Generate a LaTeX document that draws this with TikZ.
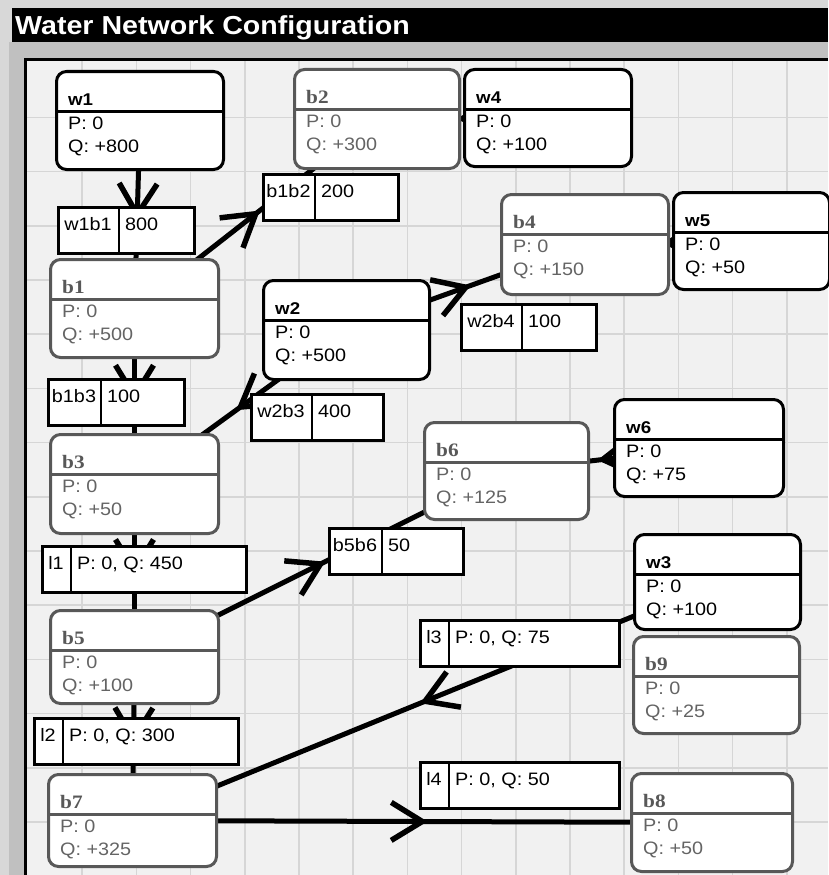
\documentclass[tikz,border=0pt]{standalone}
\usepackage{fontspec}
\setmainfont{Liberation Sans}[FakeStretch=1.1]
\newfontfamily\titleserif{Liberation Serif}[FakeStretch=1.12]
\usepackage{tikz}
\usetikzlibrary{decorations.markings, backgrounds}
\definecolor{canvasgray}{RGB}{241,241,241}
\definecolor{gridgray}{RGB}{214,214,214}
\definecolor{panelgray}{RGB}{192,192,192}
\definecolor{framegray}{RGB}{216,216,216}
\definecolor{bnodegray}{RGB}{88,88,88}
\definecolor{btextgray}{RGB}{100,100,100}

% junction / well box: name, kind (w or b), left, top, width, height, Q
\newcommand{\station}[7]{%
  \node[#2node, minimum width=#5, minimum height=#6, anchor=north west] (#1) at (#3,#4) {};
  \draw[#2node line] ([yshift=-41pt]#1.north west) -- ([yshift=-41pt]#1.north east);
  \node[#2title] at ([xshift=13pt,yshift=-35pt]#1.north west) {#1};
  \node[#2text] at ([xshift=13pt,yshift=-59pt]#1.north west) {P: 0};
  \node[#2text] at ([xshift=13pt,yshift=-82pt]#1.north west) {Q: #7};
}
% pipe label: name, left, top, width, divider, value
\newcommand{\pipe}[6]{%
  \node[pipebox, minimum width=#4, anchor=north west] (#1) at (#2,#3) {};
  \draw[pipediv] ([xshift=#5]#1.north west) -- ([xshift=#5]#1.south west);
  \node[pipetext, anchor=base] at ([xshift=#5/2,yshift=-24pt]#1.north west) {#1};
  \node[pipetext, anchor=base west] at ([xshift=#5+6,yshift=-24pt]#1.north west) {#6};
}

\begin{document}
\begin{tikzpicture}[x=1pt, y=-1pt,
    wnode/.style={draw=black, line width=3, fill=white, rounded corners=10, inner sep=0},
    bnode/.style={draw=bnodegray, line width=3, fill=white, rounded corners=10, inner sep=0},
    wnode line/.style={black, line width=3},
    bnode line/.style={bnodegray, line width=3},
    wtitle/.style={anchor=base west, inner sep=0, font=\bfseries\fontsize{17}{20}\selectfont},
    btitle/.style={anchor=base west, inner sep=0, text=bnodegray, font=\titleserif\bfseries\fontsize{19}{22}\selectfont},
    wtext/.style={anchor=base west, inner sep=0, font=\fontsize{18}{20}\selectfont},
    btext/.style={anchor=base west, inner sep=0, text=btextgray, font=\fontsize{18}{20}\selectfont},
    pipebox/.style={draw, line width=3, fill=white, minimum height=46, inner sep=0},
    pipediv/.style={line width=2},
    pipetext/.style={inner sep=0, font=\fontsize{18}{20}\selectfont},
    flow/.style={line width=5, postaction={decorate},
      decoration={markings, mark=at position 0.5 with
        {\draw[line width=5.5pt, line join=miter] (-31pt,19pt) -- (0pt,0pt) -- (-31pt,-19pt);}}}
  ]
  \useasboundingbox (0,0) rectangle (828,875);

  % window frame and grid
  \begin{scope}[on background layer]
    \fill[framegray] (0,0) rectangle (828,875);
    \fill[panelgray] (9,42) rectangle (828,875);
    \fill[black] (12,8) rectangle (828,42);
    \fill[canvasgray] (27,61) rectangle (828,875);
    \foreach \k in {1,...,14}
      \draw[gridgray, line width=1.5] (28+54.2*\k,61) -- (28+54.2*\k,875);
    \foreach \k in {1,...,15}
      \draw[gridgray, line width=1.5] (27,63.2+54.2*\k) -- (828,63.2+54.2*\k);
    \draw[line width=3] (25.5,875) -- (25.5,60) -- (828,60);
  \end{scope}

  \node[anchor=base west, inner sep=0, text=white, font=\bfseries\fontsize{26}{30}\selectfont] (title) at (15,35) {Water Network Configuration};

  % wells and junctions
  \station{w1}{w}{55}{70}{167}{98}{+800}
  \station{b2}{b}{293}{68}{165}{99}{+300}
  \station{w4}{w}{463}{68}{167}{97}{+100}
  \station{b4}{b}{500}{193}{167}{100}{+150}
  \station{w5}{w}{672}{191}{156}{97}{+50}
  \station{b1}{b}{49}{258}{168}{98}{+500}
  \station{w2}{w}{262}{279}{166}{99}{+500}
  \station{b3}{b}{49}{433}{168}{99}{+50}
  \station{b6}{b}{423}{421}{164}{97}{+125}
  \station{w6}{w}{613}{398}{169}{97}{+75}
  \station{w3}{w}{633}{533}{166}{95}{+100}
  \station{b9}{b}{632}{635}{166}{97}{+25}
  \station{b5}{b}{49}{609}{168}{93}{+100}
  \station{b7}{b}{47}{773}{168}{92}{+325}
  \station{b8}{b}{630}{772}{161}{98}{+50}

  % pipes
  \begin{scope}[on background layer]
    \draw[flow] (w1.center) -- (b1.center);
    \draw[flow] (b1.center) -- (b2.center);
    \draw[flow] (b1.center) -- (b3.center);
    \draw[flow] (w2.center) -- (b3.center);
    \draw[flow] (w2.center) -- (b4.center);
    \draw[flow] (w4.center) -- (b2.center);
    \draw[flow] (w5.center) -- (b4.center);
    \draw[flow] (w6.center) -- (b6.center);
    \draw[flow] (b3.center) -- (b5.center);
    \draw[flow] (b5.center) -- (b6.center);
    \draw[flow] (b5.center) -- (b7.center);
    \draw[flow] (w3.center) -- (b7.center);
    \draw[flow] (b7.center) -- (b8.center);
  \end{scope}

  % pipe labels
  \pipe{w1b1}{57}{206}{136}{62}{800}
  \pipe{b1b2}{262}{173}{135}{53}{200}
  \pipe{b1b3}{47}{378}{136}{54}{100}
  \pipe{w2b3}{250}{393}{132}{62}{400}
  \pipe{w2b4}{460}{303}{135}{62}{100}
  \pipe{b5b6}{328}{527}{134}{54}{50}
  \pipe{l1}{41}{545}{204}{30}{P: 0, Q: 450}
  \pipe{l2}{33}{717}{204}{30}{P: 0, Q: 300}
  \pipe{l3}{419}{619}{199}{30}{P: 0, Q: 75}
  \pipe{l4}{419}{761}{199}{30}{P: 0, Q: 50}
\end{tikzpicture}
\end{document}
